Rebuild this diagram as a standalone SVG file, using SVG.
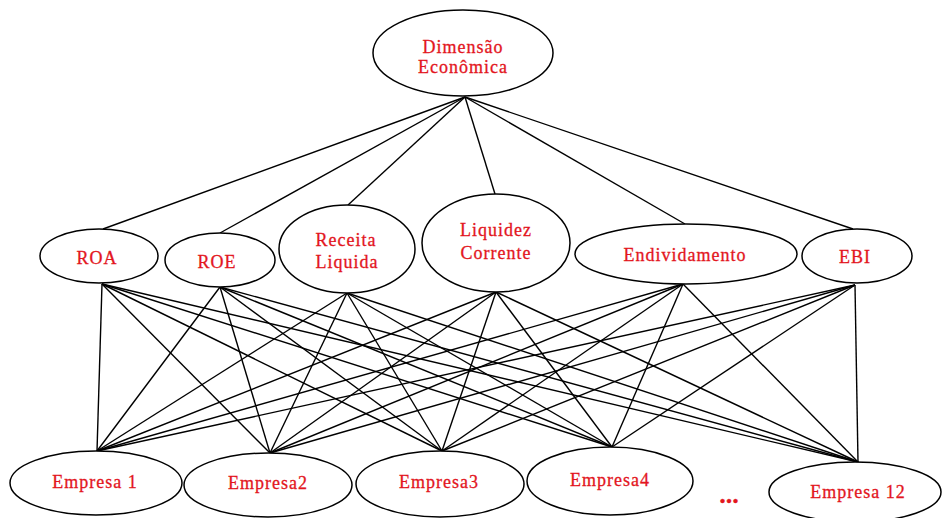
<svg xmlns="http://www.w3.org/2000/svg" width="942" height="518" viewBox="0 0 942 518">
<style>
.n{fill:#fff;stroke:#000;stroke-width:1.5}
.t{font-family:"Liberation Serif","Times New Roman",serif;font-size:18px;fill:#e3161e;stroke:#e3161e;stroke-width:0.3;text-anchor:middle;letter-spacing:1px}
.e{stroke:#000;stroke-width:1.4;fill:none}
</style>
<rect width="942" height="518" fill="#fff"/>
<g id="connectors" class="e">
<line x1="465" y1="97" x2="103" y2="229"/>
<line x1="465" y1="97" x2="220" y2="233"/>
<line x1="465" y1="97" x2="348" y2="205"/>
<line x1="465" y1="97" x2="495" y2="194"/>
<line x1="465" y1="97" x2="685" y2="224"/>
<line x1="465" y1="97" x2="853" y2="229"/>
<g id="l-roa">
<line x1="102" y1="284" x2="97" y2="451"/><line x1="102" y1="284" x2="270" y2="453"/><line x1="102" y1="284" x2="442" y2="451"/><line x1="102" y1="284" x2="612" y2="447"/><line x1="102" y1="284" x2="858" y2="462"/>
</g>
<g id="l-roe">
<line x1="220" y1="287" x2="97" y2="451"/><line x1="220" y1="287" x2="270" y2="453"/><line x1="220" y1="287" x2="442" y2="451"/><line x1="220" y1="287" x2="612" y2="447"/><line x1="220" y1="287" x2="858" y2="462"/>
</g>
<g id="l-rec">
<line x1="347" y1="293" x2="97" y2="451"/><line x1="347" y1="293" x2="270" y2="453"/><line x1="347" y1="293" x2="442" y2="451"/><line x1="347" y1="293" x2="612" y2="447"/><line x1="347" y1="293" x2="858" y2="462"/>
</g>
<g id="l-liq">
<line x1="496" y1="292" x2="97" y2="451"/><line x1="496" y1="292" x2="270" y2="453"/><line x1="496" y1="292" x2="442" y2="451"/><line x1="496" y1="292" x2="612" y2="447"/><line x1="496" y1="292" x2="858" y2="462"/>
</g>
<g id="l-end">
<line x1="683" y1="284" x2="97" y2="451"/><line x1="683" y1="284" x2="270" y2="453"/><line x1="683" y1="284" x2="442" y2="451"/><line x1="683" y1="284" x2="612" y2="447"/><line x1="683" y1="284" x2="858" y2="462"/>
</g>
<g id="l-ebi">
<line x1="855" y1="285" x2="97" y2="451"/><line x1="855" y1="285" x2="270" y2="453"/><line x1="855" y1="285" x2="442" y2="451"/><line x1="855" y1="285" x2="612" y2="447"/><line x1="855" y1="285" x2="858" y2="462"/>
</g>
</g>
<g id="dimensao"><ellipse class="n" cx="463" cy="53" rx="90" ry="43"/><text class="t" x="463" y="53">Dimensão</text><text class="t" x="463" y="73">Econômica</text></g>
<g id="roa"><ellipse class="n" cx="99" cy="256" rx="59" ry="27"/><text class="t" x="97" y="264">ROA</text></g>
<g id="roe"><ellipse class="n" cx="220" cy="260" rx="55" ry="27"/><text class="t" x="217" y="268">ROE</text></g>
<g id="receita"><ellipse class="n" cx="347" cy="249" rx="68" ry="44"/><text class="t" x="346" y="246">Receita</text><text class="t" x="347" y="268">Liquida</text></g>
<g id="liquidez"><ellipse class="n" cx="496" cy="243" rx="74" ry="49"/><text class="t" x="496" y="236">Liquidez</text><text class="t" x="496" y="259">Corrente</text></g>
<g id="endividamento"><ellipse class="n" cx="686" cy="254" rx="111" ry="30"/><text class="t" x="685" y="261">Endividamento</text></g>
<g id="ebi"><ellipse class="n" cx="857" cy="256" rx="55" ry="27"/><text class="t" x="855" y="263">EBI</text></g>
<g id="empresa1"><ellipse class="n" cx="96" cy="483" rx="86" ry="32"/><text class="t" x="95" y="488">Empresa 1</text></g>
<g id="empresa2"><ellipse class="n" cx="268" cy="485" rx="84" ry="32"/><text class="t" x="268" y="489">Empresa2</text></g>
<g id="empresa3"><ellipse class="n" cx="440" cy="484" rx="84" ry="33"/><text class="t" x="439" y="488">Empresa3</text></g>
<g id="empresa4"><ellipse class="n" cx="610" cy="481" rx="83" ry="34"/><text class="t" x="610" y="486">Empresa4</text></g>
<g id="ellipsis"><text class="t" x="729" y="503" style="font-size:26px;font-weight:bold;letter-spacing:0">...</text></g>
<g id="empresa12"><ellipse class="n" cx="855" cy="492" rx="86" ry="30"/><text class="t" x="858" y="498">Empresa 12</text></g>
</svg>
